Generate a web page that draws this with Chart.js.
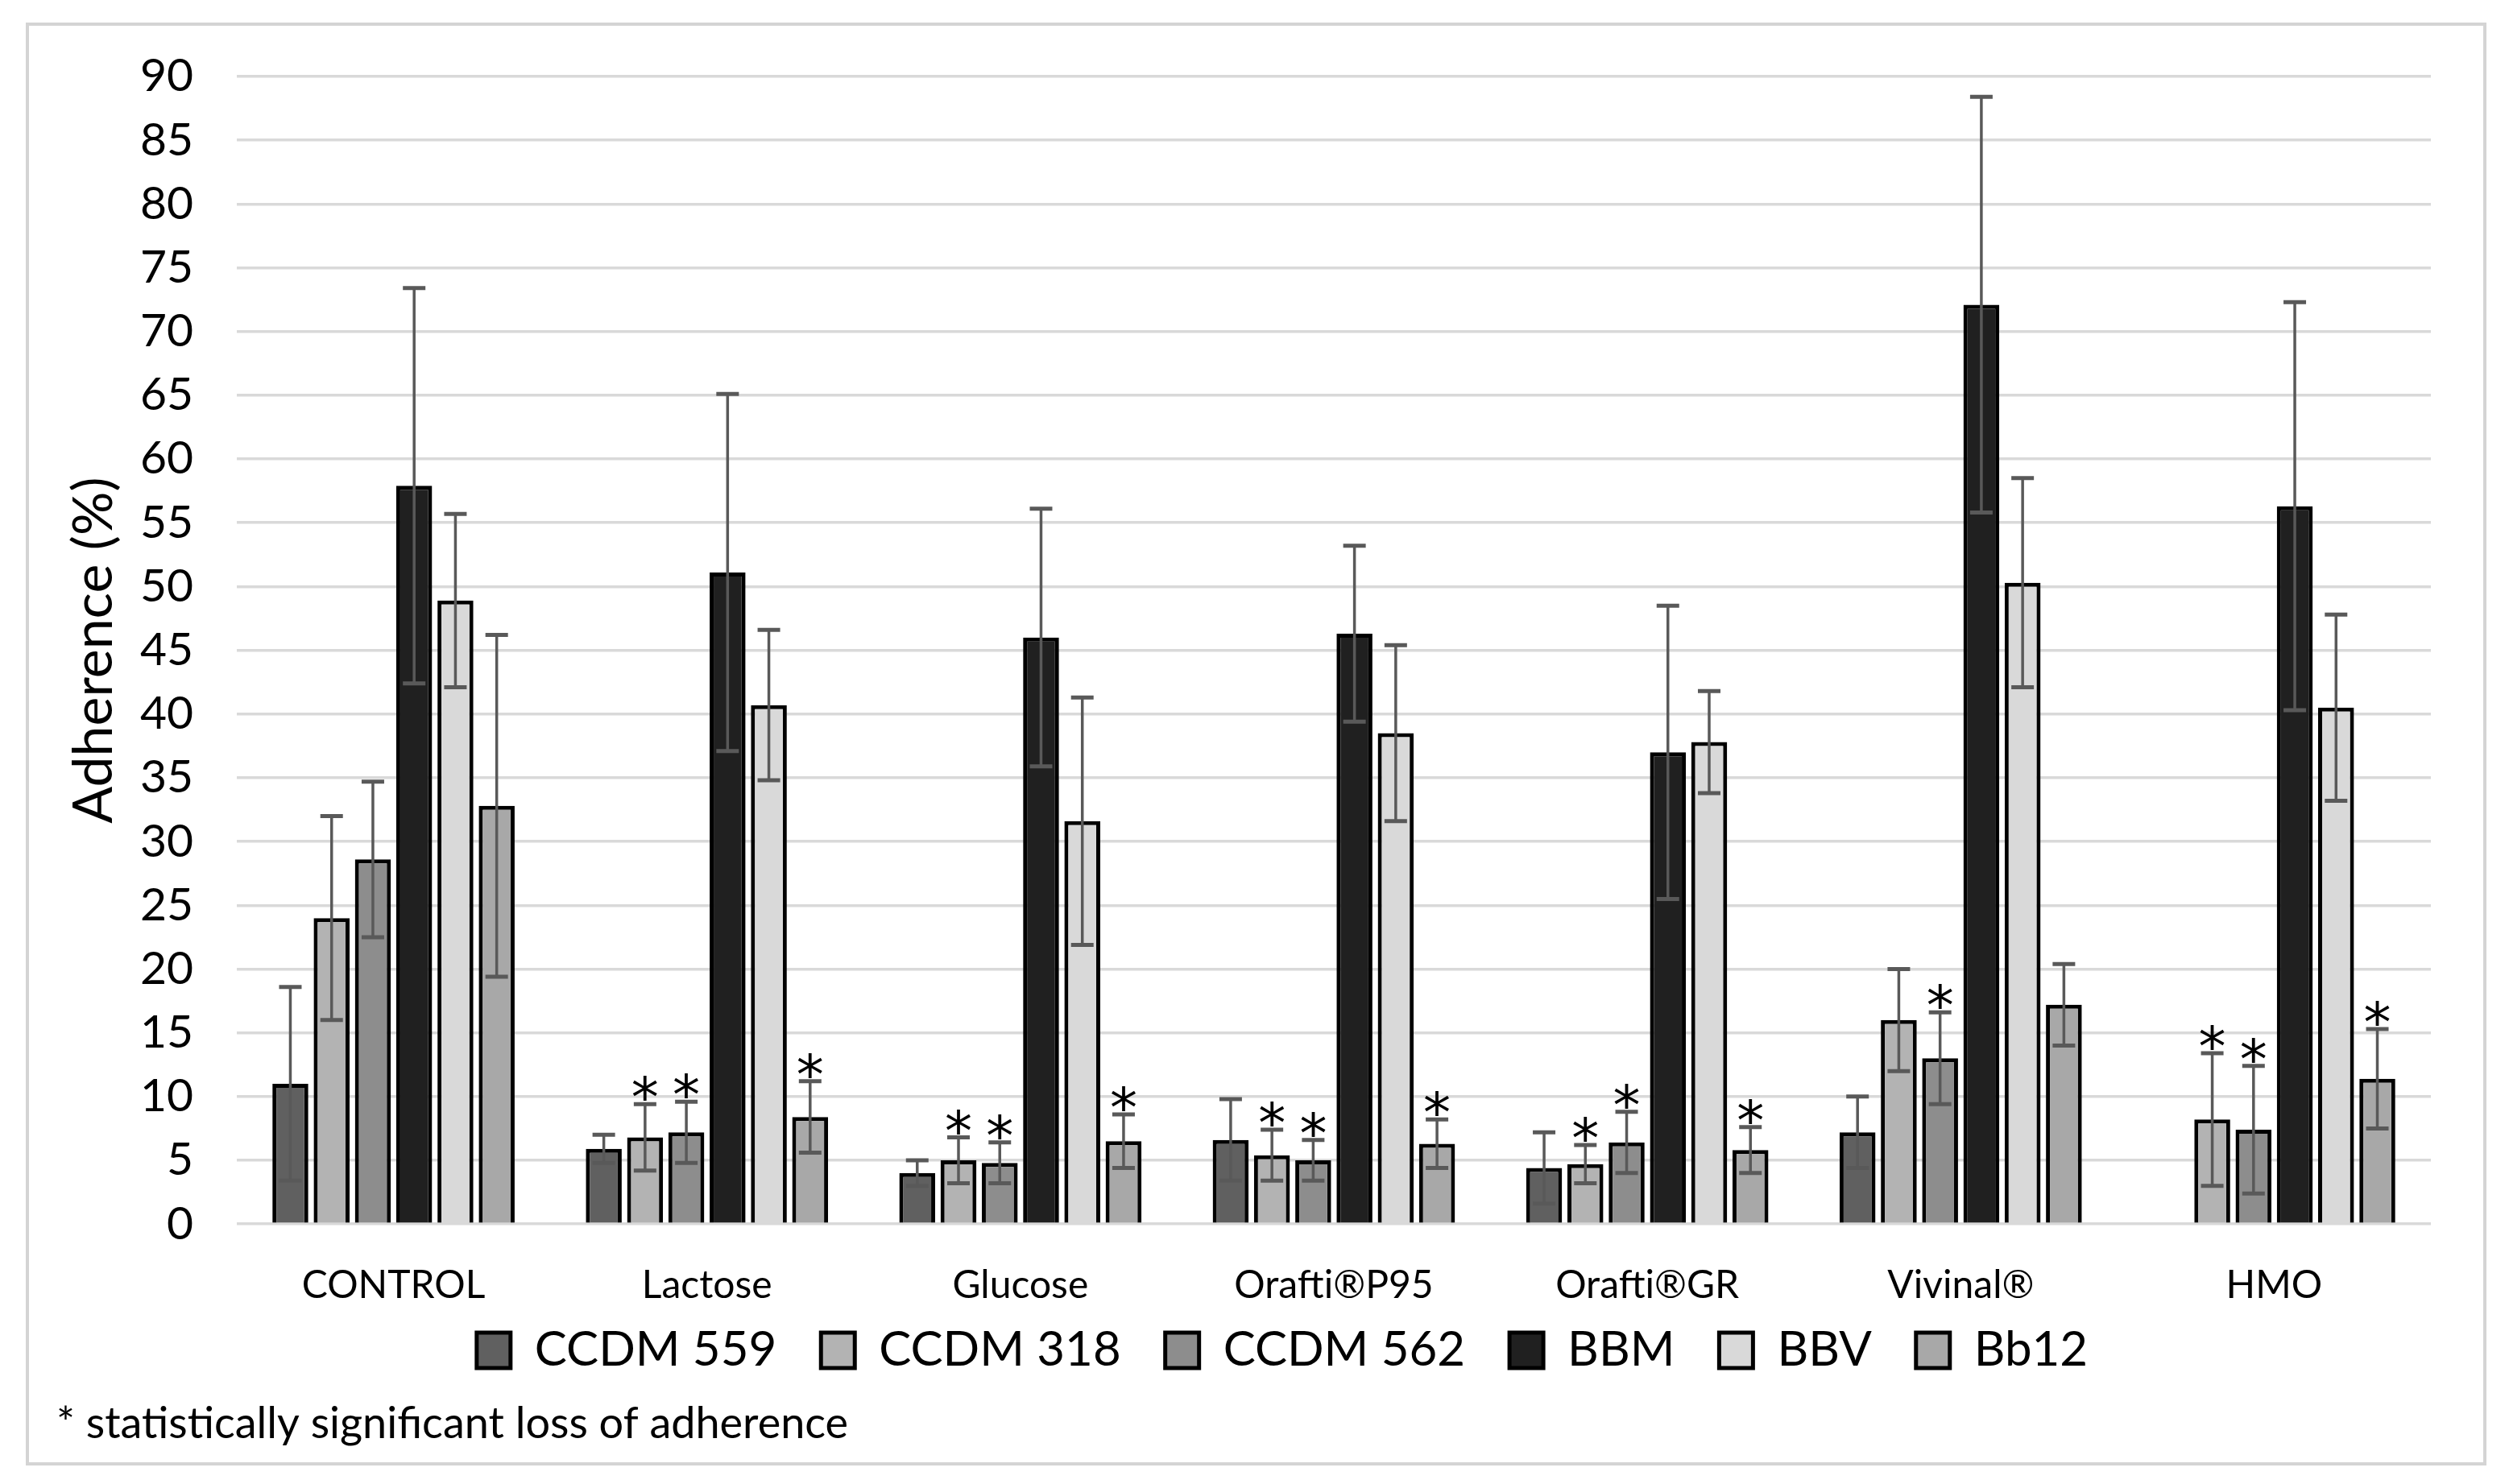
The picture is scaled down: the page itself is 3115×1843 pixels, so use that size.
<!DOCTYPE html>
<html><head><meta charset="utf-8">
<script src="https://cdn.jsdelivr.net/npm/chart.js@4.4.1/dist/chart.umd.min.js"></script>
<style>html,body{margin:0;padding:0;background:#fff;overflow:hidden;} canvas{display:block;}</style>
</head><body>
<canvas id="c" width="3115" height="1843"></canvas>
<script>
// ---- data ----
const categories = ['CONTROL', 'Lactose', 'Glucose', 'Orafti®P95', 'Orafti®GR', 'Vivinal®', 'HMO'];
const seriesNames = ['CCDM 559', 'CCDM 318', 'CCDM 562', 'BBM', 'BBV', 'Bb12'];

const ccdm559 = [11.0, 5.9, 4.0, 6.6, 4.4, 7.2, null];
const ccdm318 = [24.0, 6.8, 5.0, 5.4, 4.7, 16.0, 8.2];
const ccdm562 = [28.6, 7.2, 4.8, 5.0, 6.4, 13.0, 7.4];
const bbm     = [57.9, 51.1, 46.0, 46.3, 37.0, 72.1, 56.3];
const bbv     = [48.9, 40.7, 31.6, 38.5, 37.8, 50.3, 40.5];
const bb12    = [32.8, 8.4, 6.5, 6.3, 5.8, 17.2, 11.4];

const ccdm559Err = [7.6, 1.1, 1.0, 3.2, 2.8, 2.8, null];
const ccdm318Err = [8.0, 2.6, 1.8, 2.0, 1.5, 4.0, 5.2];
const ccdm562Err = [6.1, 2.4, 1.6, 1.6, 2.4, 3.6, 5.0];
const bbmErr     = [15.5, 14.0, 10.1, 6.9, 11.5, 16.3, 16.0];
const bbvErr     = [6.8, 5.9, 9.7, 6.9, 4.0, 8.2, 7.3];
const bb12Err    = [13.4, 2.8, 2.1, 1.9, 1.8, 3.2, 3.9];

// 1 = statistically significant loss of adherence (asterisk)
const ccdm559Sig = [0, 0, 0, 0, 0, 0, 0];
const ccdm318Sig = [0, 1, 1, 1, 1, 0, 1];
const ccdm562Sig = [0, 1, 1, 1, 1, 1, 1];
const bbmSig     = [0, 0, 0, 0, 0, 0, 0];
const bbvSig     = [0, 0, 0, 0, 0, 0, 0];
const bb12Sig    = [0, 1, 1, 1, 1, 0, 1];

const yMin = 0, yMax = 90, yStep = 5;
const yTitle = 'Adherence (%)';
const footnote = '* statistically significant loss of adherence';

// ---- styling ----
const FONT = 'Lato, "Liberation Sans", sans-serif';
const fills = ['#606060', '#b3b3b3', '#8d8d8d', '#202020', '#d9d9d9', '#a8a8a8'];
const values = [ccdm559, ccdm318, ccdm562, bbm, bbv, bb12];
const errs = [ccdm559Err, ccdm318Err, ccdm562Err, bbmErr, bbvErr, bb12Err];
const sigs = [ccdm559Sig, ccdm318Sig, ccdm562Sig, bbmSig, bbvSig, bb12Sig];

const LEGEND_PAD = 55, LEGEND_FONT = 60;

const datasets = seriesNames.map((name, i) => ({
  label: name,
  data: values[i],
  backgroundColor: fills[i],
  borderColor: '#000000',
  borderWidth: 5,
  borderSkipped: 'start',
  categoryPercentage: 0.79,
  barPercentage: 0.87
}));

const framePlugin = {
  id: 'frame',
  beforeDraw(chart) {
    const c = chart.ctx;
    c.save();
    c.fillStyle = '#ffffff';
    c.fillRect(0, 0, chart.width, chart.height);
    c.strokeStyle = '#d4d4d4';
    c.lineWidth = 4;
    c.strokeRect(34, 30, 3051, 1788);
    c.restore();
  }
};

// keep the legend's wide horizontal spacing without letting it take extra height
const legendPlacePlugin = {
  id: 'legendPlace',
  beforeLayout(chart) {
    const lg = chart.legend;
    if (lg && !lg._wrapped) {
      const orig = lg.fit;
      lg.fit = function () { orig.call(this); this.height = 108; };
      lg._wrapped = true;
    }
  },
  afterLayout(chart) {
    const lg = chart.legend;
    if (!lg) return;
    const shift = 48;
    lg.left += shift; lg.right += shift;
    const top = 1677 - LEGEND_PAD - LEGEND_FONT / 2;
    lg.top = top; lg.bottom = top + 2 * LEGEND_PAD + LEGEND_FONT;
  }
};

const errorPlugin = {
  id: 'errorbars',
  afterDatasetsDraw(chart) {
    const c = chart.ctx;
    const ys = chart.scales.y;
    c.save();
    chart.data.datasets.forEach((ds, i) => {
      const meta = chart.getDatasetMeta(i);
      meta.data.forEach((bar, j) => {
        const v = ds.data[j];
        const e = errs[i][j];
        if (v == null || e == null) return;
        const x = bar.x;
        const yt = ys.getPixelForValue(v + e);
        const yb = ys.getPixelForValue(Math.max(0, v - e));
        c.strokeStyle = '#595959';
        c.lineWidth = 3.5;
        c.beginPath();
        c.moveTo(x, yt); c.lineTo(x, yb);
        c.stroke();
        c.lineWidth = 5;
        c.beginPath();
        c.moveTo(x - 14, yt); c.lineTo(x + 14, yt);
        c.moveTo(x - 14, yb); c.lineTo(x + 14, yb);
        c.stroke();
        if (sigs[i][j]) {
          c.fillStyle = '#000000';
          c.font = '68px "DejaVu Sans", sans-serif';
          c.textAlign = 'center';
          c.textBaseline = 'alphabetic';
          c.fillText('*', x, yt + 15);
        }
      });
    });
    c.restore();
  }
};

new Chart(document.getElementById('c'), {
  type: 'bar',
  data: { labels: categories, datasets },
  options: {
    responsive: false,
    devicePixelRatio: 1,
    animation: false,
    layout: { padding: { left: 70, right: 97, top: 95, bottom: 42 } },
    scales: {
      x: {
        grid: { display: false },
        border: { display: false },
        ticks: { color: '#000', font: { family: FONT, size: 48 }, padding: 40, maxRotation: 0, autoSkip: false },
        afterFit(s) { s.height = 108; }
      },
      y: {
        min: yMin, max: yMax,
        ticks: { stepSize: yStep, color: '#000', font: { family: FONT, size: 57 }, padding: 54 },
        grid: { color: '#d9d9d9', lineWidth: 3.5, drawTicks: false },
        border: { display: false },
        title: { display: true, text: yTitle, color: '#000', font: { family: FONT, size: 68 }, padding: { top: 6, bottom: 0 } },
        afterFit(s) { s.width = 224; }
      }
    },
    plugins: {
      legend: {
        position: 'bottom',
        labels: { color: '#000', font: { family: FONT, size: LEGEND_FONT }, boxWidth: 42, boxHeight: 44, padding: LEGEND_PAD }
      },
      title: {
        display: true, text: footnote, position: 'bottom', align: 'start',
        color: '#000', font: { family: FONT, size: 54, weight: 'normal' }, padding: 0
      },
      tooltip: { enabled: false }
    }
  },
  plugins: [framePlugin, legendPlacePlugin, errorPlugin]
});
</script>
</body></html>
